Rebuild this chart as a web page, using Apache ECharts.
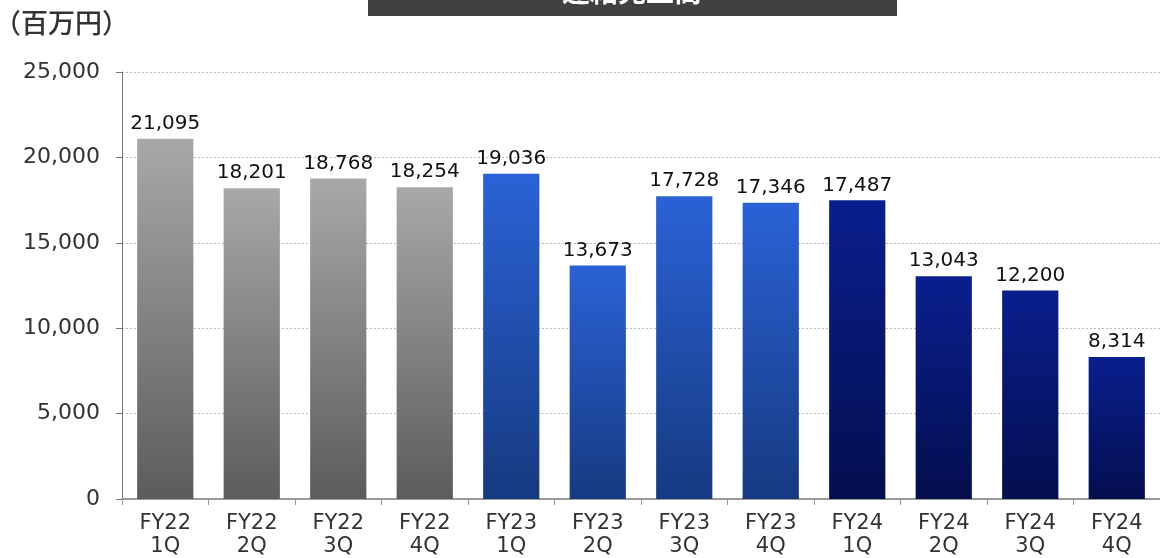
<!DOCTYPE html>
<html><head><meta charset="utf-8">
<script src="https://cdn.jsdelivr.net/npm/echarts@6/dist/echarts.min.js"></script>
<style>html,body{margin:0;padding:0;background:#fff}#c{width:1160px;height:558px}</style>
</head><body><div id="c"></div>
<script>
const categories = ["FY22\n1Q","FY22\n2Q","FY22\n3Q","FY22\n4Q","FY23\n1Q","FY23\n2Q","FY23\n3Q","FY23\n4Q","FY24\n1Q","FY24\n2Q","FY24\n3Q","FY24\n4Q"];
const sales = [21095,18201,18768,18254,19036,13673,17728,17346,17487,13043,12200,8314];
const fiscalYear = ["FY22","FY22","FY22","FY22","FY23","FY23","FY23","FY23","FY24","FY24","FY24","FY24"];
const unitLabel = "（百万円）";
const titleText = "連結売上高";

const grads = {
  FY22: ["#a8a8a8", "#5c5c5c"],
  FY23: ["#2a62d6", "#163a80"],
  FY24: ["#0a1f8e", "#040e4e"]
};
const cjk = '"Noto Sans CJK JP", "Noto Sans", sans-serif';
const lat = '"DejaVu Sans", "Noto Sans CJK JP", sans-serif';
const chart = echarts.init(document.getElementById('c'));
chart.setOption({
  animation: false,
  grid: {left: 122, right: 0, top: 72, bottom: 55, containLabel: false},
  graphic: [
    {type: 'rect', shape: {x: 368, y: -20, width: 529, height: 36}, style: {fill: '#404040'}},
    {type: 'text', x: 632, y: -9, style: {text: titleText, fill: '#fff', font: 'bold 28px ' + cjk, textAlign: 'center', textVerticalAlign: 'middle'}},
    {type: 'text', left: -6, top: 9, style: {text: unitLabel, fill: '#333', font: '500 27px ' + cjk}}
  ],
  xAxis: {
    type: 'category', data: categories,
    axisLine: {lineStyle: {color: '#9a9a9a', width: 2}},
    axisTick: {show: true, alignWithLabel: false, length: 6, lineStyle: {color: '#9a9a9a'}},
    axisLabel: {color: '#333', fontSize: 21, lineHeight: 23, fontFamily: lat, margin: 13, interval: 0}
  },
  yAxis: {
    type: 'value', min: 0, max: 25000, interval: 5000,
    axisLine: {show: true, lineStyle: {color: '#777', width: 1}},
    axisTick: {show: true, length: 6, lineStyle: {color: '#777'}},
    splitLine: {lineStyle: {color: '#bbb', type: [2, 2], width: 1}},
    axisLabel: {color: '#333', fontSize: 22, fontFamily: lat, margin: 22,
      formatter: v => v.toLocaleString('en-US')}
  },
  series: [{
    type: 'bar', barWidth: '65%',
    data: sales.map((v, i) => ({
      value: v,
      itemStyle: {color: new echarts.graphic.LinearGradient(0, 0, 0, 1, [
        {offset: 0, color: grads[fiscalYear[i]][0]},
        {offset: 1, color: grads[fiscalYear[i]][1]}
      ])}
    })),
    label: {show: true, position: 'top', distance: 5, color: '#111', fontSize: 20, fontFamily: lat,
      formatter: p => p.value.toLocaleString('en-US')}
  }]
});
</script></body></html>
